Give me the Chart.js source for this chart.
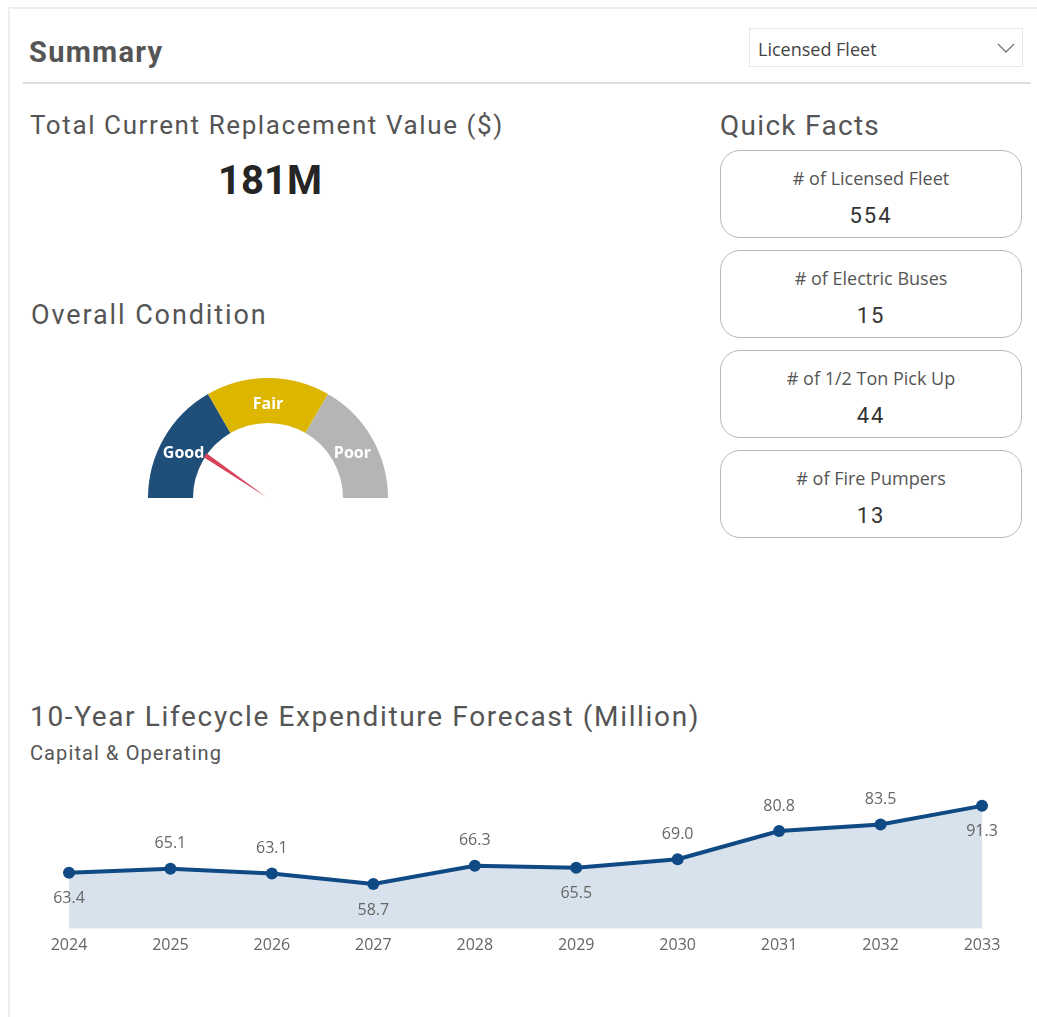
<!DOCTYPE html>
<html>
<head>
<meta charset="utf-8">
<script src="https://cdn.jsdelivr.net/npm/chart.js@4"></script>
<style>
  html, body { margin: 0; padding: 0; background: #fff; }
  body { width: 1037px; height: 1017px; position: relative; overflow: hidden; font-family: Roboto, sans-serif; }
  .abs { position: absolute; }
  .frame-top { left: 9px; top: 7px; width: 1028px; height: 2px; background: #eeeeee; }
  .frame-left { left: 8px; top: 7px; width: 2px; height: 1010px; background: #eeeeee; }
  .rule { left: 23px; top: 82px; width: 1008px; height: 2px; background: #dedede; }
  .h-summary { left: 29px; top: 35px; font-size: 29px; font-weight: bold; color: #555; letter-spacing: 1.3px; }
  .dropdown { left: 749px; top: 28px; width: 274px; height: 39px; border: 1px solid #e6e6e6; box-sizing: border-box; }
  .dropdown span { position: absolute; left: 8px; top: 8px; font-family: "Open Sans", sans-serif; font-size: 18px; color: #444; }
  .dropdown svg { position: absolute; right: 7px; top: 14px; }
  .h { color: #555; font-size: 26px; letter-spacing: 1.6px; }
  .kpi { left: 170px; width: 200px; text-align: center; top: 157px; font-size: 40px; font-weight: bold; color: #252525; letter-spacing: 0px; }
  .card { left: 720px; width: 302px; height: 88px; border: 1px solid #b9b9b9; border-radius: 20px; box-sizing: border-box; text-align: center; }
  .card .t { position: absolute; left: 0; right: 0; top: 15px; font-family: "Open Sans", sans-serif; font-size: 18px; color: #555; }
  .card .v { position: absolute; left: 0; right: 0; top: 52px; font-size: 22px; color: #333; letter-spacing: 2px; }
  .sub { left: 30px; top: 741px; font-size: 20px; color: #555; letter-spacing: 1.1px; }
</style>
</head>
<body>
<div class="abs frame-top"></div>
<div class="abs frame-left"></div>
<div class="abs h-summary">Summary</div>
<div class="abs dropdown"><span>Licensed Fleet</span>
  <svg width="18" height="10" viewBox="0 0 18 10"><polyline points="1,1 9,9 17,1" fill="none" stroke="#777" stroke-width="1.3"/></svg>
</div>
<div class="abs rule"></div>

<div class="abs h" style="left:30px; top:110px;">Total Current Replacement Value ($)</div>
<div class="abs kpi" id="kpi"></div>

<div class="abs h" style="left:31px; top:299px; font-size:27px; letter-spacing:1.9px;">Overall Condition</div>
<canvas class="abs" id="gauge" style="left:138px; top:368px;" width="260" height="140"></canvas>

<div class="abs h" style="left:720px; top:109px; font-size:28px; letter-spacing:1.3px;">Quick Facts</div>
<div id="cards"></div>

<div class="abs h" style="left:30px; top:700px; font-size:28px; letter-spacing:1.65px;">10-Year Lifecycle Expenditure Forecast (Million)</div>
<div class="abs sub">Capital &amp; Operating</div>
<canvas class="abs" id="forecast" style="left:0px; top:770px;" width="1037" height="200"></canvas>

<script>
// Headline value
const replacementValue = '181M';

// Quick facts
const factLabels = ['# of Licensed Fleet', '# of Electric Buses', '# of 1/2 Ton Pick Up', '# of Fire Pumpers'];
const factValues = [554, 15, 44, 13];

// Gauge bands and needle
const conditionBands = ['Good', 'Fair', 'Poor'];
const conditionBandSizes = [1, 1, 1];
const conditionBandColors = ['#1f4e79', '#dcb600', '#b5b5b5'];
const conditionScore = 0.57; // on the 0..3 band scale

// Forecast
const years = ['2024', '2025', '2026', '2027', '2028', '2029', '2030', '2031', '2032', '2033'];
const expenditure = [63.4, 65.1, 63.1, 58.7, 66.3, 65.5, 69.0, 80.8, 83.5, 91.3];
const labelSide = ['below', 'above', 'above', 'below', 'above', 'below', 'above', 'above', 'above', 'below'];

document.getElementById('kpi').textContent = replacementValue;

const cardsEl = document.getElementById('cards');
factLabels.forEach((lbl, i) => {
    const card = document.createElement('div');
    card.className = 'abs card';
    card.style.top = (150 + i * 100) + 'px';
    card.innerHTML = '<div class="t"></div><div class="v"></div>';
    card.querySelector('.t').textContent = lbl;
    card.querySelector('.v').textContent = factValues[i];
    cardsEl.appendChild(card);
});

// Gauge: band labels + needle
const gaugeOverlay = {
    id: 'gaugeOverlay',
    afterDatasetsDraw(chart) {
        const ctx = chart.ctx;
        const meta = chart.getDatasetMeta(0);
        const arc0 = meta.data[0];
        const cx = arc0.x, cy = arc0.y;
        const rIn = arc0.innerRadius, rOut = arc0.outerRadius;
        ctx.save();
        ctx.font = 'bold 16px "Open Sans", sans-serif';
        ctx.fillStyle = '#fff';
        ctx.textAlign = 'center';
        ctx.textBaseline = 'middle';
        meta.data.forEach((arc, i) => {
            const a = (arc.startAngle + arc.endAngle) / 2;
            const r = (rIn + rOut) / 2;
            ctx.fillText(conditionBands[i], cx + Math.cos(a) * r, cy + Math.sin(a) * r + 4);
        });
        // needle
        const total = conditionBandSizes.reduce((s, v) => s + v, 0);
        const ang = Math.PI + Math.PI * (conditionScore / total);
        const len = rIn + 1;
        const px = -Math.sin(ang), py = Math.cos(ang);
        ctx.beginPath();
        ctx.moveTo(cx + Math.cos(ang) * len + px * 2.5, cy + Math.sin(ang) * len + py * 2.5);
        ctx.lineTo(cx + Math.cos(ang) * len - px * 2.5, cy + Math.sin(ang) * len - py * 2.5);
        ctx.lineTo(cx + Math.cos(ang) * 2, cy + Math.sin(ang) * 2);
        ctx.closePath();
        ctx.fillStyle = '#d8435a';
        ctx.fill();
        ctx.restore();
    }
};

new Chart(document.getElementById('gauge'), {
    type: 'doughnut',
    data: {
        labels: conditionBands,
        datasets: [{
            data: conditionBandSizes,
            backgroundColor: conditionBandColors,
            borderWidth: 0
        }]
    },
    options: {
        responsive: false,
        animation: false,
        rotation: -90,
        circumference: 180,
        radius: 120,
        cutout: '62.5%',
        plugins: { legend: { display: false }, tooltip: { enabled: false } }
    },
    plugins: [gaugeOverlay]
});

// Forecast data labels
const pointLabels = {
    id: 'pointLabels',
    afterDatasetsDraw(chart) {
        const ctx = chart.ctx;
        const meta = chart.getDatasetMeta(0);
        ctx.save();
        ctx.font = '16px "Open Sans", sans-serif';
        ctx.fillStyle = '#666';
        ctx.textAlign = 'center';
        ctx.textBaseline = 'middle';
        meta.data.forEach((pt, i) => {
            const dy = labelSide[i] === 'above' ? -25 : 26;
            ctx.fillText(expenditure[i].toFixed(1), pt.x, pt.y + dy);
        });
        ctx.restore();
    }
};

new Chart(document.getElementById('forecast'), {
    type: 'line',
    data: {
        labels: years,
        datasets: [{
            data: expenditure,
            borderColor: '#0f4a84',
            backgroundColor: '#d8e2ec',
            borderWidth: 4,
            fill: 'start',
            tension: 0,
            pointRadius: 6,
            pointBackgroundColor: '#0f4a84',
            pointBorderWidth: 0
        }]
    },
    options: {
        responsive: false,
        animation: false,
        layout: { padding: { left: 69, right: 55, top: 15, bottom: 8 } },
        plugins: { legend: { display: false }, tooltip: { enabled: false } },
        scales: {
            x: {
                offset: false,
                grid: { display: false, drawTicks: false },
                border: { display: false },
                ticks: {
                    color: '#666',
                    padding: 7,
                    font: { family: '"Open Sans", sans-serif', size: 16 }
                }
            },
            y: {
                display: false,
                min: 40,
                max: 100
            }
        }
    },
    plugins: [pointLabels]
});
</script>
</body>
</html>
